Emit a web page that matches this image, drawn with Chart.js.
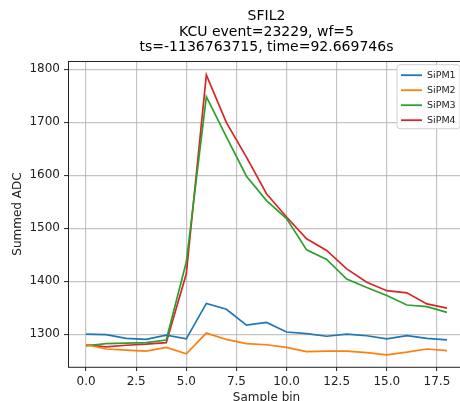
<!DOCTYPE html>
<html>
<head>
<meta charset="utf-8">
<script src="https://cdn.jsdelivr.net/npm/chart.js@4.4.0/dist/chart.umd.min.js"></script>
<style>
  html, body { margin: 0; padding: 0; background: #fff; overflow: hidden; }
  #chart { display: block; }
</style>
</head>
<body>
<canvas id="chart" width="472" height="412"></canvas>
<script>
// Sample bins and summed ADC per SiPM
const sampleBins = [0, 1, 2, 3, 4, 5, 6, 7, 8, 9, 10, 11, 12, 13, 14, 15, 16, 17, 18];
const sipm1 = [1300, 1299, 1292, 1290, 1298, 1291, 1358, 1347, 1317, 1322, 1304, 1301, 1296, 1300, 1297, 1291, 1297, 1292, 1289];
const sipm2 = [1280, 1272, 1270, 1268, 1275, 1263, 1302, 1290, 1282, 1280, 1275, 1267, 1268, 1268, 1265, 1261, 1266, 1272, 1269];
const sipm3 = [1278, 1282, 1283, 1284, 1289, 1436, 1748, 1672, 1598, 1552, 1518, 1459, 1441, 1404, 1388, 1373, 1355, 1352, 1341];
const sipm4 = [1280, 1276, 1279, 1281, 1284, 1414, 1789, 1699, 1634, 1565, 1521, 1480, 1458, 1423, 1398, 1382, 1378, 1357, 1349];

const seriesNames = ['SiPM1', 'SiPM2', 'SiPM3', 'SiPM4'];
const seriesColors = ['#1f77b4', '#ff7f0e', '#2ca02c', '#d62728'];

const xTickValues = [0, 2.5, 5, 7.5, 10, 12.5, 15, 17.5];
const yTickValues = [1300, 1400, 1500, 1600, 1700, 1800];

const titleLines = ['SFIL2', 'KCU event=23229, wf=5', 'ts=-1136763715, time=92.669746s'];

const FONT = 'DejaVu Sans';

function toPoints(values) {
    return values.map((v, i) => ({ x: sampleBins[i], y: v }));
}

// matplotlib style frame (left/top/bottom spines) + legend box in upper right
const framePlugin = {
    id: 'frame',
    afterDraw(chart) {
        const ctx = chart.ctx;
        const a = chart.chartArea;
        ctx.save();
        ctx.strokeStyle = '#222';
        ctx.lineWidth = 1;
        ctx.strokeRect(Math.round(a.left) + 0.5, Math.round(a.top) + 0.5, a.right - a.left, a.bottom - a.top);

        // legend
        const right = a.right - 5, top = a.top + 3.5;
        const w = 63, rowH = 15, h = 64;
        const left = right - w;
        ctx.beginPath();
        ctx.roundRect(left, top, w, h, 3);
        ctx.fillStyle = 'rgba(255,255,255,0.85)';
        ctx.fill();
        ctx.strokeStyle = '#d0d0d0';
        ctx.lineWidth = 1;
        ctx.stroke();
        ctx.font = '9.5px "' + FONT + '"';
        ctx.textBaseline = 'middle';
        ctx.textAlign = 'left';
        chart.data.datasets.forEach((ds, i) => {
            const y = top + 10.5 + i * rowH;
            ctx.strokeStyle = ds.borderColor;
            ctx.lineWidth = 1.8;
            ctx.beginPath();
            ctx.moveTo(left + 4, y);
            ctx.lineTo(left + 25, y);
            ctx.stroke();
            ctx.fillStyle = '#222';
            ctx.fillText(ds.label, left + 30, y + 0.5);
        });
        ctx.restore();
    }
};

const ctx = document.getElementById('chart').getContext('2d');
new Chart(ctx, {
    type: 'line',
    data: {
        datasets: [
            { label: seriesNames[0], data: toPoints(sipm1), borderColor: seriesColors[0] },
            { label: seriesNames[1], data: toPoints(sipm2), borderColor: seriesColors[1] },
            { label: seriesNames[2], data: toPoints(sipm3), borderColor: seriesColors[2] },
            { label: seriesNames[3], data: toPoints(sipm4), borderColor: seriesColors[3] }
        ].map(ds => Object.assign(ds, {
            borderWidth: 1.7,
            pointRadius: 0,
            tension: 0,
            fill: false
        }))
    },
    options: {
        responsive: false,
        animation: false,
        devicePixelRatio: 1,
        layout: {
            padding: { left: 0, right: 7, top: 0, bottom: 0 }
        },
        plugins: {
            legend: { display: false },
            tooltip: { enabled: false },
            title: {
                display: true,
                fullSize: false,
                text: titleLines,
                color: '#000',
                font: { family: FONT, size: 14, weight: 'normal', lineHeight: 1.1 },
                padding: { top: 9, bottom: 6 }
            }
        },
        scales: {
            x: {
                type: 'linear',
                min: -0.9,
                max: 18.9,
                afterBuildTicks: scale => { scale.ticks = xTickValues.map(v => ({ value: v })); },
                afterFit: scale => { scale.height = 45; },
                ticks: {
                    color: '#222',
                    font: { family: FONT, size: 12 },
                    padding: 4,
                    maxRotation: 0,
                    callback: v => v.toFixed(1)
                },
                grid: {
                    color: 'rgba(176,176,176,0.75)',
                    lineWidth: 1.2,
                    tickColor: '#222',
                    tickLength: 4,
                    tickWidth: 1
                },
                border: { display: false },
                title: {
                    display: true,
                    text: 'Sample bin',
                    color: '#222',
                    font: { family: FONT, size: 12 },
                    padding: { top: 0, bottom: 7 }
                }
            },
            y: {
                min: 1238,
                max: 1815,
                afterBuildTicks: scale => { scale.ticks = yTickValues.map(v => ({ value: v })); },
                afterFit: scale => { scale.width = 68; },
                ticks: {
                    color: '#222',
                    font: { family: FONT, size: 12 },
                    padding: 4,
                    callback: v => String(v)
                },
                grid: {
                    color: 'rgba(176,176,176,0.75)',
                    lineWidth: 1.2,
                    tickColor: '#222',
                    tickLength: 4,
                    tickWidth: 1
                },
                border: { display: false },
                title: {
                    display: true,
                    text: 'Summed ADC',
                    color: '#222',
                    font: { family: FONT, size: 12 },
                    padding: { top: 11, bottom: 0 }
                }
            }
        }
    },
    plugins: [framePlugin]
});
</script>
</body>
</html>
